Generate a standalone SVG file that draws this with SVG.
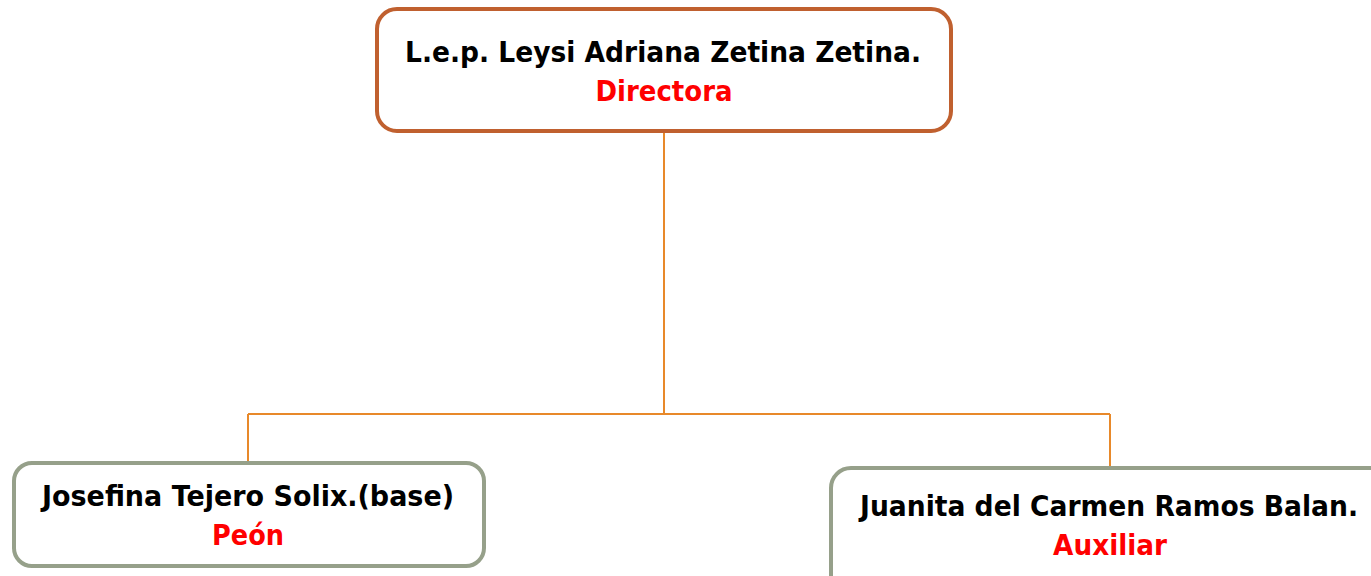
<svg xmlns="http://www.w3.org/2000/svg" width="1371" height="576" viewBox="0 0 1371 576">
<style>
.box{fill:#fff;stroke-width:4}
.top{stroke:#C0602F}
.sub{stroke:#96A08A}
.name{font-family:"DejaVu Sans",sans-serif;font-weight:bold;font-size:29px;fill:#000;text-anchor:middle}
.role{font-family:"DejaVu Sans",sans-serif;font-weight:bold;font-size:29px;fill:#FF0000;text-anchor:middle}
.conn{fill:none;stroke:#E8892A;stroke-width:2}
</style>
<rect width="1371" height="576" fill="#fff"/>
<g id="connectors">
<path class="conn" d="M664 131 V414 M248 414 H1110 M248 414 V463 M1110 414 V468"/>
</g>
<g id="node-directora">
<rect class="box top" x="377" y="9" width="574" height="122" rx="20"/>
<text class="name" x="663" y="62" textLength="516" lengthAdjust="spacingAndGlyphs">L.e.p. Leysi Adriana Zetina Zetina.</text>
<text class="role" x="664" y="101" textLength="137" lengthAdjust="spacingAndGlyphs">Directora</text>
</g>
<g id="node-peon">
<rect class="box sub" x="14" y="463" width="470" height="103" rx="18"/>
<text class="name" x="248" y="506" textLength="412" lengthAdjust="spacingAndGlyphs">Josefina Tejero Solix.(base)</text>
<text class="role" x="248" y="545" textLength="72" lengthAdjust="spacingAndGlyphs">Peón</text>
</g>
<g id="node-auxiliar">
<rect class="box sub" x="831" y="468" width="580" height="130" rx="20"/>
<text class="name" x="1109" y="516" textLength="498" lengthAdjust="spacingAndGlyphs">Juanita del Carmen Ramos Balan.</text>
<text class="role" x="1110" y="555" textLength="114" lengthAdjust="spacingAndGlyphs">Auxiliar</text>
</g>
</svg>
